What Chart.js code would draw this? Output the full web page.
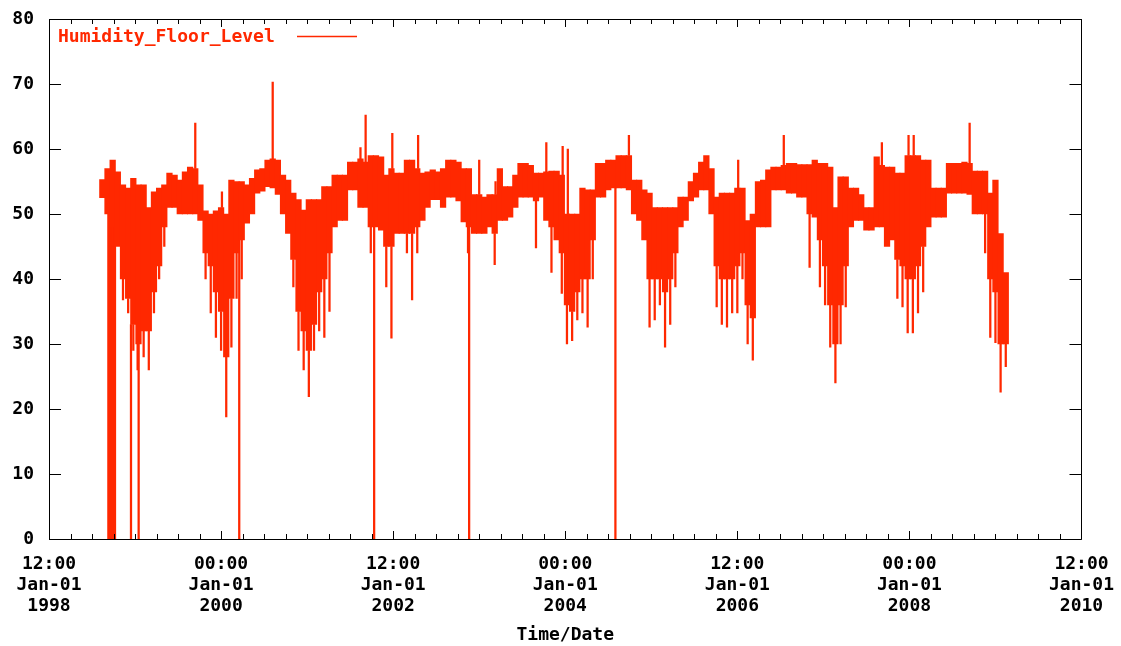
<!DOCTYPE html>
<html>
<head>
<meta charset="utf-8">
<script src="https://cdn.jsdelivr.net/npm/chart.js@4.4.1/dist/chart.umd.min.js"></script>
<style>
  html, body { margin: 0; padding: 0; background: #fff; }
  #wrap { width: 1121px; height: 646px; position: relative; }
</style>
</head>
<body>
<div id="wrap"><canvas id="humChart"></canvas></div>
<script>
// series name and colour
const seriesName = 'Humidity_Floor_Level';
const lineColor = '#ff2800';

// dense part of the trace, per 0.06-year bin: top and bottom of the band
const binStart = 1998.62;
const binSize = 0.06;
const binHigh = [
    55.3, 57, 58.3, 56.5, 54.5, 54, 55.5, 54.5, 54.5, 51,
    53.4, 54, 54.5, 56.3, 56, 55.2, 56.5, 57.2, 57, 54.5,
    50.5, 50, 50.5, 51, 50, 55.2, 55, 55, 54.5, 55.5,
    56.8, 57, 58.3, 58.5, 58.3, 56, 55.2, 53.2, 52.2, 50.6,
    52.2, 52.2, 52.2, 54.2, 54.2, 56, 56, 56, 58, 58,
    58.5, 58, 59, 59, 58.8, 56, 57, 56.3, 56.3, 58.3,
    58.3, 57, 56.3, 56.5, 56.8, 56.5, 57, 58.3, 58.3, 58,
    57, 57, 53, 53, 52.6, 53, 53, 57, 54.2, 54.2,
    56, 57.8, 57.8, 57.5, 56.3, 56.3, 56.5, 56.6, 56.6, 56,
    50, 50, 50, 54, 53.7, 53.7, 57.8, 57.8, 58.3, 58.3,
    59, 59, 59, 55.2, 55.2, 53.7, 53.2, 51, 51, 51,
    51, 51, 52.6, 52.6, 55, 56.3, 58, 59, 57, 52.6,
    53.2, 53.2, 53.2, 54, 54, 49, 50, 55, 55.2, 56.8,
    57.2, 57.2, 57.5, 57.8, 57.8, 57.6, 57.6, 57.6, 58.3, 57.8,
    57.8, 57.2, 51, 55.7, 55.7, 54, 54, 53, 51, 51,
    58.8, 57.5, 57.2, 57.2, 56.3, 56.3, 59, 59, 59, 58.3,
    58.3, 54, 54, 54, 57.8, 57.8, 57.8, 58, 57.8, 56.6,
    56.6, 56.6, 53.2, 55.2, 47, 41
];
const binLow = [
    52.5, 50, 48, 45, 40, 37, 33, 30, 32, 32,
    38, 42, 48, 51, 51, 50, 50, 50, 50, 49,
    44, 42, 38, 35, 28, 37, 44, 46, 48.6, 50,
    53.2, 53.5, 54.2, 54, 53, 50, 47, 43, 35, 32,
    29, 33, 38, 40, 44, 48, 49, 49, 53.7, 53.7,
    51, 51, 48, 48, 47.5, 45, 45, 47, 47, 47,
    47, 48, 49, 51, 52.2, 52.2, 51, 52.6, 52.6, 52,
    48.8, 48, 47, 47, 47, 48, 47, 49, 49, 49.5,
    51, 52.6, 52.6, 52.6, 52, 52.6, 49, 48, 46, 44,
    36, 35, 38, 40, 40, 46, 52.6, 52.6, 53.7, 54,
    54, 54, 53.7, 50, 49, 46, 40, 40, 40, 38,
    40, 44, 48, 49, 52, 52.6, 53.7, 53.7, 50, 42,
    40, 40, 40, 42, 44, 36, 34, 48, 48, 48,
    53.7, 53.7, 53.7, 53.2, 53.2, 52.6, 52.6, 50, 49.5, 46,
    42, 36, 30, 36, 42, 48, 49, 49, 47.5, 47.5,
    48, 48, 45, 46, 43, 42, 40, 40, 42, 45,
    48, 49.5, 49.5, 49.5, 53.2, 53.2, 53.2, 53.2, 53, 50,
    50, 50, 40, 38, 30, 30
];

// single readings that stick out of the band (decimal year, value)
const spikeTimes = [
    1998.86, 1998.92, 1998.98, 1999.03, 1999.10, 1999.16, 1999.22, 1999.28, 1999.34,
    1999.70, 1999.82, 1999.88, 1999.94, 2000.00, 2000.01, 2000.06, 2000.12, 2000.18, 2000.24,
    2000.60, 2000.84, 2000.90, 2000.96, 2001.02, 2001.08, 2001.14, 2001.20, 2001.26,
    2001.62, 2001.68, 2001.74, 2001.92, 2001.98, 2001.99, 2002.16, 2002.22, 2002.28, 2002.29,
    2002.87, 2003.00, 2003.18, 2003.19, 2003.66, 2003.78, 2003.84, 2003.96, 2003.97,
    2004.02, 2004.03, 2004.08, 2004.14, 2004.20, 2004.26, 2004.32, 2004.74,
    2004.98, 2005.04, 2005.10, 2005.16, 2005.22, 2005.28,
    2005.76, 2005.82, 2005.88, 2005.94, 2006.00, 2006.01, 2006.06, 2006.12, 2006.18,
    2006.54, 2006.84, 2006.96, 2007.02, 2007.08, 2007.14, 2007.20, 2007.26,
    2007.68, 2007.86, 2007.92, 2007.98, 2007.99, 2008.04, 2008.05, 2008.10, 2008.16,
    2008.70, 2008.88, 2008.94, 2009.00, 2009.06, 2009.12
];
const spikeValues = [
    36.8, 34.8, 29, 26, 28, 26, 34.8, 40, 45,
    64, 40, 34.8, 31, 29, 53.4, 18.8, 29.5, 37, 40,
    70.3, 38.8, 29, 26, 21.9, 29, 32, 31, 35,
    60.2, 65.2, 44, 38.8, 30.9, 62.4, 44, 36.8, 44, 62.1,
    44, 58.3, 42.2, 55, 44.8, 61, 41, 37.8, 60.4,
    30, 60, 30.5, 33.7, 34.8, 32.6, 40, 62.1,
    32.6, 33.7, 36, 29.5, 33, 38.8,
    35.7, 33, 32.6, 34.8, 34.8, 58.3, 40, 30, 27.5,
    62.1, 41.8, 38.8, 36, 29.5, 24, 30, 35.7,
    61, 37, 35.7, 31.7, 62.1, 31.7, 62.1, 34.8, 38,
    64, 44, 31, 30.2, 22.6, 26.5
];

// times (decimal year) where the sensor read 0
const zeroDrops = [
    1998.69, 1998.70, 1998.71, 1998.72, 1998.73, 1998.74, 1998.75, 1998.76, 1998.767,
    1998.953, 1999.042, 2000.211, 2001.779, 2002.883, 2004.583
];

// axis ticks
const xTickLabels = [
    ['12:00', 'Jan-01', '1998'],
    ['00:00', 'Jan-01', '2000'],
    ['12:00', 'Jan-01', '2002'],
    ['00:00', 'Jan-01', '2004'],
    ['12:00', 'Jan-01', '2006'],
    ['00:00', 'Jan-01', '2008'],
    ['12:00', 'Jan-01', '2010']
];
const yTickLabels = ['0', '10', '20', '30', '40', '50', '60', '70', '80'];

const monoFont = { family: '"DejaVu Sans Mono", monospace', size: 18, weight: 'bold' };

function binOf(t) {
    return Math.min(binHigh.length - 1, Math.max(0, Math.round((t - binStart) / binSize)));
}

// band: floating bar per bin; spikes and zero readings: thin bars joined to the band
const bandData = binHigh.map((v, i) => ({ x: binStart + i * binSize, y: [binLow[i], v] }));
const spikeData = spikeTimes.map((t, j) => {
    const i = binOf(t);
    const v = spikeValues[j];
    return { x: t, y: v < binLow[i] ? [v, binLow[i]] : [binHigh[i], v] };
});
zeroDrops.forEach(t => spikeData.push({ x: t, y: [0, binLow[binOf(t)]] }));

// gnuplot style frame with inward ticks on all four sides, and the key
const framePlugin = {
    id: 'frame',
    afterDatasetsDraw(chart) {
        const { ctx, chartArea: a, scales: { x, y } } = chart;
        ctx.save();
        ctx.strokeStyle = '#000';
        ctx.lineWidth = 1;
        ctx.beginPath();
        ctx.rect(Math.round(a.left) + 0.5, Math.round(a.top) + 0.5,
            Math.round(a.right - a.left), Math.round(a.bottom - a.top));
        // x ticks every quarter of the 2-year step
        for (let i = 0; i <= 48; i++) {
            const px = Math.round(x.getPixelForValue(1998 + i * 0.25)) + 0.5;
            const len = i % 8 === 0 ? 8 : 5;
            ctx.moveTo(px, a.bottom);
            ctx.lineTo(px, a.bottom - len);
            ctx.moveTo(px, a.top);
            ctx.lineTo(px, a.top + len);
        }
        yTickLabels.forEach((lbl, i) => {
            const py = Math.round(y.getPixelForValue(i * 10)) + 0.5;
            ctx.moveTo(a.left, py);
            ctx.lineTo(a.left + 12, py);
            ctx.moveTo(a.right, py);
            ctx.lineTo(a.right - 12, py);
        });
        ctx.stroke();

        // key: label then line sample
        ctx.font = 'bold 18px "DejaVu Sans Mono", monospace';
        ctx.fillStyle = lineColor;
        ctx.textBaseline = 'middle';
        ctx.textAlign = 'left';
        ctx.fillText(seriesName, a.left + 9, a.top + 18);
        ctx.strokeStyle = lineColor;
        ctx.lineWidth = 1.5;
        ctx.beginPath();
        ctx.moveTo(a.left + 248, a.top + 17.5);
        ctx.lineTo(a.left + 308, a.top + 17.5);
        ctx.stroke();
        ctx.restore();
    }
};

new Chart(document.getElementById('humChart'), {
    type: 'bar',
    data: {
        datasets: [{
            label: seriesName,
            data: bandData,
            backgroundColor: lineColor,
            borderWidth: 0,
            barThickness: 5.6,
            grouped: false
        }, {
            label: seriesName + ' (single readings)',
            data: spikeData,
            backgroundColor: lineColor,
            borderWidth: 0,
            barThickness: 1.6,
            grouped: false
        }]
    },
    options: {
        responsive: true,
        maintainAspectRatio: false,
        animation: false,
        layout: { padding: { top: 19, right: 31, left: 0, bottom: 0 } },
        plugins: {
            legend: { display: false },
            tooltip: { enabled: false }
        },
        scales: {
            x: {
                type: 'linear',
                min: 1998,
                max: 2010,
                offset: false,
                grid: { display: false, offset: false },
                border: { display: false },
                ticks: {
                    stepSize: 2,
                    autoSkip: false,
                    maxRotation: 0,
                    color: '#000',
                    padding: 7,
                    font: Object.assign({ lineHeight: 1.17 }, monoFont),
                    callback: v => xTickLabels[Math.round((v - 1998) / 2)]
                },
                title: {
                    display: true,
                    text: 'Time/Date',
                    color: '#000',
                    font: monoFont,
                    padding: 0
                },
                afterFit: s => { s.height = 107; }
            },
            y: {
                min: 0,
                max: 80,
                grid: { display: false },
                border: { display: false },
                ticks: {
                    stepSize: 10,
                    color: '#000',
                    padding: 7,
                    font: monoFont,
                    callback: v => yTickLabels[Math.round(v / 10)]
                },
                afterFit: s => { s.width = 49; }
            }
        }
    },
    plugins: [framePlugin]
});
</script>
</body>
</html>
